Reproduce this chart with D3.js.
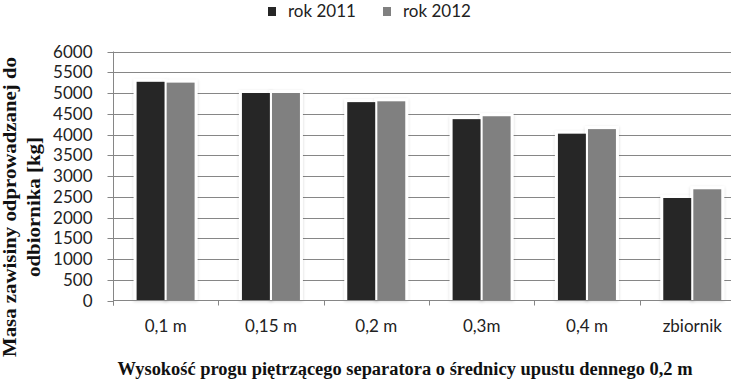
<!DOCTYPE html>
<html><head><meta charset="utf-8">
<script src="https://cdn.jsdelivr.net/npm/d3@7"></script>
<style>
html,body{margin:0;padding:0;background:#fff;}
svg{display:block;overflow:hidden;}
</style></head>
<body>
<svg id="chart" width="731" height="382"></svg>
<script>
const categories = ["0,1 m", "0,15 m", "0,2 m", "0,3m", "0,4 m", "zbiornik"];
const seriesNames = ["rok 2011", "rok 2012"];
const values2011 = [5270, 5000, 4780, 4370, 4020, 2470];
const values2012 = [5250, 5000, 4800, 4440, 4130, 2680];
const yTicks = [0, 500, 1000, 1500, 2000, 2500, 3000, 3500, 4000, 4500, 5000, 5500, 6000];
const colors = ["#262626", "#808080"];
const xTitle = "Wysokość progu piętrzącego separatora o średnicy upustu dennego 0,2 m";
const yTitle1 = "Masa zawisiny odprowadzanej do";
const yTitle2 = "odbiornika [kg]";

const svg = d3.select("#chart");
const mLeft = 113, mRight = 745, mTop = 51.5, mBottom = 300.5;
const sans = "Lato, 'Open Sans', sans-serif";

const defs = svg.append("defs");
const f = defs.append("filter").attr("id","glow").attr("x","-30%").attr("y","-10%").attr("width","160%").attr("height","120%");
f.append("feGaussianBlur").attr("in","SourceAlpha").attr("stdDeviation",1.6).attr("result","b");
f.append("feFlood").attr("flood-color","#000").attr("flood-opacity",0.16).attr("result","c");
f.append("feComposite").attr("in","c").attr("in2","b").attr("operator","in").attr("result","s");
f.append("feOffset").attr("in","s").attr("dx",0).attr("dy",1).attr("result","o");
const fm = f.append("feMerge");
fm.append("feMergeNode").attr("in","o");
fm.append("feMergeNode").attr("in","SourceGraphic");

const x0 = d3.scaleBand().domain(categories).range([mLeft, mRight]).padding(0);
const x1 = d3.scaleBand().domain(seriesNames).range([23.6, 81.6]).paddingInner(0.07);
const y = d3.scaleLinear().domain([0, 6000]).range([mBottom, mTop]);

// gridlines
svg.append("g").selectAll("line").data(yTicks.filter(d => d > 0)).join("line")
  .attr("x1", mLeft).attr("x2", mRight)
  .attr("y1", d => Math.round(y(d)) + 0.5).attr("y2", d => Math.round(y(d)) + 0.5)
  .attr("stroke", "#868686").attr("stroke-width", 1);

// y axis
const yAxis = svg.append("g").attr("transform", `translate(${mLeft + 0.5},0)`)
  .call(d3.axisLeft(y).tickValues(yTicks).tickSize(6).tickPadding(15).tickFormat(d3.format("d")));
yAxis.select(".domain").attr("d", `M0,${mTop}V${mBottom + 5}`).attr("stroke", "#868686");
yAxis.selectAll(".tick line").attr("stroke", "#868686").attr("y1", 0.5).attr("y2", 0.5);
yAxis.selectAll(".tick text").attr("font-family", sans).attr("font-size", 17)
  .attr("fill", "#222").attr("dy", "0.36em");
yAxis.selectAll(".tick").attr("transform", d => `translate(0,${Math.round(y(d))})`);

// bars
const groups = svg.append("g").selectAll("g").data(categories).join("g")
  .attr("transform", c => `translate(${x0(c)},0)`);
const barData = (c, i) => [
    {s: seriesNames[0], v: values2011[i], k: 0},
    {s: seriesNames[1], v: values2012[i], k: 1}];
// white halo with soft shadow behind bars
groups.selectAll("rect.halo").data(barData).join("rect").attr("class", "halo")
  .attr("x", d => x1(d.s) - 3).attr("width", x1.bandwidth() + 6)
  .attr("y", d => y(d.v) - 3).attr("height", d => mBottom - y(d.v) + 3)
  .attr("fill", "#fff").attr("filter", "url(#glow)");
groups.selectAll("rect.bar").data(barData).join("rect").attr("class", "bar")
  .attr("x", d => x1(d.s)).attr("width", x1.bandwidth())
  .attr("y", d => y(d.v)).attr("height", d => mBottom - y(d.v))
  .attr("fill", d => colors[d.k]);

// x axis
const xAxis = svg.append("g").attr("transform", `translate(0,${mBottom})`);
xAxis.append("line").attr("x1", mLeft).attr("x2", mRight).attr("y1", 0).attr("y2", 0).attr("stroke", "#868686");
const bounds = categories.map(c => x0(c)).concat([mRight]);
xAxis.selectAll("line.t").data(bounds).join("line").attr("class","t")
  .attr("x1", d => Math.round(d) + 0.5).attr("x2", d => Math.round(d) + 0.5)
  .attr("y1", 0).attr("y2", 5).attr("stroke", "#868686");
xAxis.selectAll("text").data(categories).join("text")
  .attr("x", c => x0(c) + x0.bandwidth() / 2).attr("y", 31)
  .attr("text-anchor", "middle").attr("font-family", sans)
  .attr("font-size", 17).attr("fill", "#222").text(c => c);

// axis titles
svg.append("text").attr("x", 405).attr("y", 375).attr("text-anchor", "middle")
  .attr("font-family", "'Liberation Serif', serif").attr("font-weight", "bold").attr("font-size", 18)
  .attr("textLength", 575).attr("lengthAdjust", "spacingAndGlyphs").attr("fill", "#111").text(xTitle);

svg.append("text").attr("transform", "translate(16,207) rotate(-90)").attr("text-anchor", "middle")
  .attr("font-family", "'Liberation Serif', serif").attr("font-weight", "bold").attr("font-size", 19)
  .attr("textLength", 300).attr("lengthAdjust", "spacingAndGlyphs").attr("fill", "#111").text(yTitle1);
svg.append("text").attr("transform", "translate(40,207) rotate(-90)").attr("text-anchor", "middle")
  .attr("font-family", "'Liberation Serif', serif").attr("font-weight", "bold").attr("font-size", 19)
  .attr("textLength", 140).attr("lengthAdjust", "spacingAndGlyphs").attr("fill", "#111").text(yTitle2);

// legend
const legendX = [268, 383];
const leg = svg.append("g").selectAll("g").data(seriesNames).join("g")
  .attr("transform", (d, i) => `translate(${legendX[i]},0)`);
leg.append("rect").attr("x", 0).attr("y", 7).attr("width", 8).attr("height", 9)
  .attr("fill", (d, i) => colors[i]);
leg.append("text").attr("x", 20).attr("y", 17).attr("font-family", sans)
  .attr("font-size", 17).attr("fill", "#222").text(d => d);
</script>
</body></html>
